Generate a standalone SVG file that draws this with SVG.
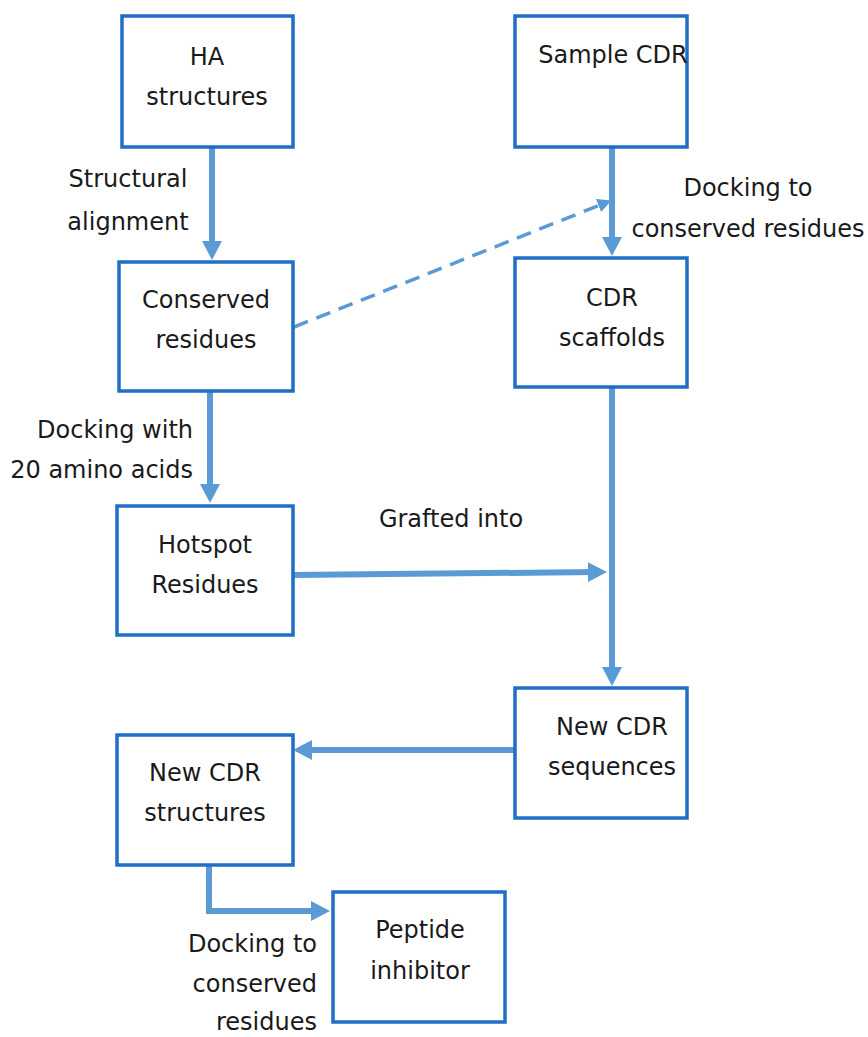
<svg xmlns="http://www.w3.org/2000/svg" width="868" height="1037" viewBox="0 0 868 1037">
<style>
.box{fill:#fff;stroke:#1f6fc5;stroke-width:3.5}
.t{font-family:"DejaVu Sans",Verdana,sans-serif;font-size:24px;fill:#1a1a1a}
.c{text-anchor:middle}
.r{text-anchor:end}
.a{fill:none;stroke:#5b9bd5;stroke-width:6}
.d{fill:none;stroke:#5b9bd5;stroke-width:3.5;stroke-dasharray:15 9}
</style>
<defs>
<marker id="ah" markerUnits="userSpaceOnUse" markerWidth="22" markerHeight="22" refX="9" refY="11" orient="auto">
<path d="M0,1 L19,11 L0,21 z" fill="#5b9bd5"/>
</marker>
<marker id="ahs" markerUnits="userSpaceOnUse" markerWidth="16" markerHeight="16" refX="7" refY="8" orient="auto">
<path d="M0,1 L14,8 L0,15 z" fill="#5b9bd5"/>
</marker>
</defs>
<rect width="868" height="1037" fill="#fff"/>
<g id="connectors">
<path class="a" d="M212,147 V250" marker-end="url(#ah)"/>
<path class="a" d="M612,147 V246" marker-end="url(#ah)"/>
<path class="d" d="M294,327 L605,203" marker-end="url(#ahs)"/>
<path class="a" d="M210,391 V493" marker-end="url(#ah)"/>
<path class="a" d="M293,575 L597,572" marker-end="url(#ah)"/>
<path class="a" d="M612,387 V676" marker-end="url(#ah)"/>
<path class="a" d="M515,750 H303" marker-end="url(#ah)"/>
<path class="a" d="M209,865 V911 H320" marker-end="url(#ah)"/>
<text class="t c" x="128" y="187">Structural</text>
<text class="t c" x="128" y="230">alignment</text>
<text class="t c" x="748" y="196">Docking to</text>
<text class="t c" x="748" y="237">conserved residues</text>
<text class="t r" x="193" y="438">Docking with</text>
<text class="t r" x="193" y="478">20 amino acids</text>
<text class="t c" x="451" y="527">Grafted into</text>
<text class="t r" x="317" y="952">Docking to</text>
<text class="t r" x="317" y="992">conserved</text>
<text class="t r" x="317" y="1030">residues</text>
</g>
<g id="ha">
<rect class="box" x="122" y="16" width="171" height="131"/>
<text class="t c" x="207" y="65">HA</text>
<text class="t c" x="207" y="105">structures</text>
</g>
<g id="sample">
<rect class="box" x="515" y="16" width="172" height="131"/>
<text class="t c" x="613" y="63">Sample CDR</text>
</g>
<g id="conserved">
<rect class="box" x="119" y="262" width="174" height="129"/>
<text class="t c" x="206" y="308">Conserved</text>
<text class="t c" x="206" y="348">residues</text>
</g>
<g id="scaffolds">
<rect class="box" x="515" y="258" width="172" height="129"/>
<text class="t c" x="612" y="306">CDR</text>
<text class="t c" x="612" y="346">scaffolds</text>
</g>
<g id="hotspot">
<rect class="box" x="117" y="506" width="176" height="129"/>
<text class="t c" x="205" y="553">Hotspot</text>
<text class="t c" x="205" y="593">Residues</text>
</g>
<g id="sequences">
<rect class="box" x="515" y="688" width="172" height="130"/>
<text class="t c" x="612" y="735">New CDR</text>
<text class="t c" x="612" y="775">sequences</text>
</g>
<g id="structures">
<rect class="box" x="117" y="735" width="176" height="130"/>
<text class="t c" x="205" y="781">New CDR</text>
<text class="t c" x="205" y="821">structures</text>
</g>
<g id="peptide">
<rect class="box" x="333" y="892" width="172" height="130"/>
<text class="t c" x="420" y="938">Peptide</text>
<text class="t c" x="420" y="979">inhibitor</text>
</g>
</svg>
